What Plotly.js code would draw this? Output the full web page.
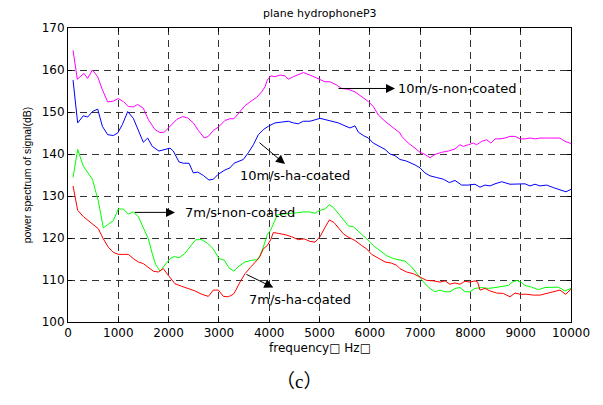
<!DOCTYPE html>
<html>
<head>
<meta charset="utf-8">
<script src="https://cdn.plot.ly/plotly-3.0.1.min.js"></script>
<style>
html,body{margin:0;padding:0;background:#fff;}
#chart{width:603px;height:405px;}
</style>
</head>
<body>
<div id="chart"></div>
<script>
// 10m/s non-coated (magenta)
var f10nc = [100,185,318,391,484,590,683,789,901,1000,1100,1200,1299,1385,1497,1597,1730,1829,1915,2028,2161,2273,2379,2491,2591,2710,2790,2889,2989,3121,3221,3300,3386,3519,3652,3751,3851,3917,3962,4030,4115,4215,4314,4380,4480,4612,4678,4811,4944,5109,5209,5342,5441,5573,5706,5839,5971,6070,6169,6302,6467,6600,6634,6766,6899,6998,7097,7197,7296,7429,7561,7694,7793,7859,7958,8058,8124,8224,8324,8409,8489,8588,8688,8787,8887,8986,9085,9185,9284,9384,9517,9649,9781,9881,10000];
var v10nc = [164.7,157.8,159.2,158.0,160.0,158.4,155.3,152.4,152.6,153.2,152.5,151.3,151.2,151.8,150.9,148.2,145.8,145.1,145.2,146.7,148.2,148.9,148.6,147.4,145.6,143.8,144.2,145.6,146.4,148.0,148.4,148.4,149.7,151.5,152.7,153.5,154.8,156.0,157.6,158.6,158.4,158.8,158.6,157.8,158.4,159.2,159.4,158.8,158.0,157.2,157.2,156.4,155.6,155.4,154.8,153.7,152.5,151.3,149.3,147.8,146.2,145.0,144.2,142.6,141.4,140.4,139.9,139.1,139.9,140.4,140.7,141.2,142.2,141.8,142.2,142.6,142.2,143.0,143.4,142.6,143.6,143.6,143.8,144.2,144.2,143.6,143.6,143.8,143.6,143.8,143.8,143.8,143.8,143.0,142.5];

// 10m/s ha-coated (blue)
var f10hc = [100,192,305,391,484,590,683,789,901,988,1081,1187,1299,1398,1497,1584,1676,1809,1928,2028,2094,2207,2293,2406,2491,2578,2690,2803,2889,2989,3121,3221,3300,3386,3486,3585,3685,3784,3883,3983,4115,4248,4380,4480,4579,4678,4811,4930,5010,5109,5242,5374,5507,5606,5706,5772,5871,5971,6070,6203,6302,6402,6501,6600,6733,6899,6998,7097,7197,7330,7462,7582,7694,7827,7958,8091,8191,8290,8390,8489,8622,8787,8952,9085,9185,9284,9384,9517,9649,9781,9901,10000];
var v10hc = [157.6,147.4,149.1,148.8,150.1,150.7,146.6,144.6,144.4,145.0,147.0,150.1,148.5,145.8,142.8,143.8,141.8,140.7,141.1,141.4,140.7,138.1,137.8,137.8,135.5,135.7,134.9,133.8,134.0,135.2,136.2,136.7,137.8,138.3,138.7,140.3,142.2,144.6,145.8,146.6,147.4,147.6,147.8,147.4,147.2,147.8,147.8,148.2,148.5,148.2,147.8,147.4,146.7,146.2,146.7,145.2,144.4,143.8,142.6,141.8,141.1,140.0,139.6,138.7,138.3,137.4,136.7,135.5,134.8,134.4,134.0,133.2,133.7,132.6,132.6,132.8,132.1,132.6,132.4,132.9,133.4,132.8,132.8,132.9,132.4,132.8,132.4,132.6,132.0,131.4,131.0,131.6];

// 7m/s non-coated (green)
var f7nc = [100,192,305,391,484,603,702,802,901,1000,1100,1199,1299,1398,1497,1597,1676,1743,1829,1928,2028,2114,2207,2313,2425,2539,2658,2777,2889,3002,3108,3201,3300,3386,3519,3652,3751,3817,3883,3962,4030,4095,4161,4281,4414,4546,4678,4811,4911,5010,5109,5195,5275,5374,5474,5573,5672,5805,5938,6070,6203,6336,6467,6600,6700,6832,6965,7097,7197,7296,7396,7495,7594,7694,7793,7893,7992,8091,8224,8357,8489,8622,8754,8833,8922,9006,9085,9218,9351,9483,9616,9748,9881,10000];
var v7nc = [134.4,141.1,137.1,135.5,134.0,128.8,122.4,123.3,124.1,126.9,126.9,125.7,126.2,125.1,122.5,119.8,116.2,113.7,112.1,113.5,115.1,115.6,115.3,116.2,118.0,119.6,119.6,118.7,117.4,115.1,114.7,112.9,112.1,113.2,114.3,114.7,114.8,115.8,117.8,120.8,121.9,123.7,125.5,125.7,125.8,126.0,126.2,126.2,125.9,126.6,126.9,127.9,127.3,125.8,124.5,122.9,122.7,121.3,119.8,118.2,116.9,115.8,115.1,114.7,114.5,113.1,111.1,109.1,108.0,107.2,107.6,107.2,107.2,108.0,108.2,107.2,107.2,108.0,108.2,108.0,108.2,108.5,108.7,109.5,109.9,109.5,108.7,108.3,107.7,108.2,108.3,108.3,107.4,108.0];

// 7m/s ha-coated (red)
var f7hc = [100,192,305,404,504,603,702,802,901,1000,1100,1199,1299,1398,1497,1597,1696,1795,1895,1994,2127,2260,2392,2525,2658,2790,2889,2989,3088,3187,3287,3320,3419,3519,3618,3718,3803,3883,3962,4030,4082,4181,4314,4447,4579,4692,4811,4911,5010,5109,5195,5288,5374,5474,5573,5706,5839,5938,6037,6169,6302,6434,6534,6600,6733,6865,6998,7131,7263,7396,7495,7594,7694,7793,7893,7992,8091,8144,8191,8290,8390,8522,8655,8787,8887,8986,9119,9251,9384,9517,9649,9781,9894,10000];
var v7hc = [132.4,126.6,125.1,124.1,123.2,122.2,119.8,117.8,116.6,116.1,116.1,116.1,115.1,114.3,113.9,112.9,112.1,111.9,112.7,111.1,109.1,108.5,108.0,107.4,106.6,106.1,107.6,107.6,106.1,106.0,106.6,107.2,109.5,111.5,112.9,114.3,115.3,117.4,118.2,119.6,121.3,121.1,120.8,120.3,119.6,119.8,119.2,119.0,120.3,122.5,124.3,123.7,122.5,121.0,120.2,119.4,118.2,117.4,116.1,115.1,114.3,114.0,113.5,112.7,111.9,111.5,110.7,109.9,109.8,109.5,109.8,109.0,109.3,109.0,109.7,109.5,109.8,109.5,107.6,108.0,107.4,106.9,106.8,106.0,106.9,106.6,106.6,106.4,106.4,106.8,107.2,107.6,106.6,107.8];

var xTicks = [0,1000,2000,3000,4000,5000,6000,7000,8000,9000,10000];
var yTicks = [100,110,120,130,140,150,160,170];

// annotation labels
var labelText = ['10m/s-non-coated','10m/s-ha-coated','7m/s-non-coated','7m/s-ha-coated'];
var tailX = [5348,3777,1298,3519];
var tailY = [155.6,143.0,126.1,111.5];
var headX = [6501,4314,2127,4082];
var headY = [155.6,137.6,126.1,108.2];
var textX = [6521,3380,2292,3565];
var textY = [155.6,134.8,126.1,105.4];

var F = 'DejaVu Sans, Arial, sans-serif';

function tr(x,y,c){return {x:x,y:y,type:'scatter',mode:'lines',line:{color:c,width:1},hoverinfo:'skip'};}
var data = [tr(f10nc,v10nc,'#ff00ff'),tr(f10hc,v10hc,'#0000ff'),tr(f7nc,v7nc,'#00ff00'),tr(f7hc,v7hc,'#ff0000')];

var ann = [];
for (var i=0;i<labelText.length;i++){
  ann.push({xref:'x',yref:'y',axref:'x',ayref:'y',x:headX[i],y:headY[i],ax:tailX[i],ay:tailY[i],
    text:' ',font:{size:1},showarrow:true,arrowhead:2,arrowsize:1.8,arrowwidth:1,arrowcolor:'#000',standoff:0,startstandoff:0});
  ann.push({xref:'x',yref:'y',x:textX[i],y:textY[i],xanchor:'left',yanchor:'middle',text:labelText[i],
    showarrow:false,font:{family:F,size:13,color:'#000'}});
}
ann.push({xref:'paper',yref:'paper',x:0.5,y:1,yshift:6,xanchor:'center',yanchor:'bottom',text:'plane hydrophoneP3',showarrow:false,font:{family:F,size:11,color:'#000'}});
ann.push({xref:'paper',yref:'paper',x:0.5,y:0,yshift:-17,xanchor:'center',yanchor:'top',text:'frequency\u25A1 Hz\u25A1',showarrow:false,font:{family:F,size:12,color:'#000'}});
ann.push({xref:'paper',yref:'paper',x:0.46,y:0,yshift:-42,xanchor:'center',yanchor:'top',text:'（<span style="font-family:Liberation Serif">c</span>）',showarrow:false,font:{family:'Noto Sans CJK SC, Liberation Serif, serif',size:19,color:'#000'}});

var layout = {
  width:603,height:405,
  margin:{l:68,r:32,t:28,b:83},
  paper_bgcolor:'#fff',plot_bgcolor:'#fff',
  showlegend:false,
  xaxis:{range:[0,10000],tickvals:xTicks,ticktext:xTicks.map(String),ticks:'inside',ticklen:4,tickcolor:'#000',
    showline:true,linecolor:'#000',linewidth:1,mirror:'ticks',showgrid:true,gridcolor:'#333',griddash:'7px,5px',gridwidth:1,
    zeroline:false,tickfont:{family:F,size:12,color:'#000'}},
  yaxis:{range:[100,170],tickvals:yTicks,ticktext:yTicks.map(String),ticks:'inside',ticklen:4,tickcolor:'#000',
    showline:true,linecolor:'#000',linewidth:1,mirror:'ticks',showgrid:true,gridcolor:'#333',griddash:'7px,5px',gridwidth:1,
    zeroline:false,tickfont:{family:F,size:12,color:'#000'},
    title:{text:'power spectrum of signal(dB)',font:{family:'Liberation Sans, Arial, sans-serif',size:10.5,color:'#000'},standoff:8}},
  annotations:ann
};
Plotly.newPlot('chart',data,layout,{staticPlot:true,displayModeBar:false});
</script>
</body>
</html>
